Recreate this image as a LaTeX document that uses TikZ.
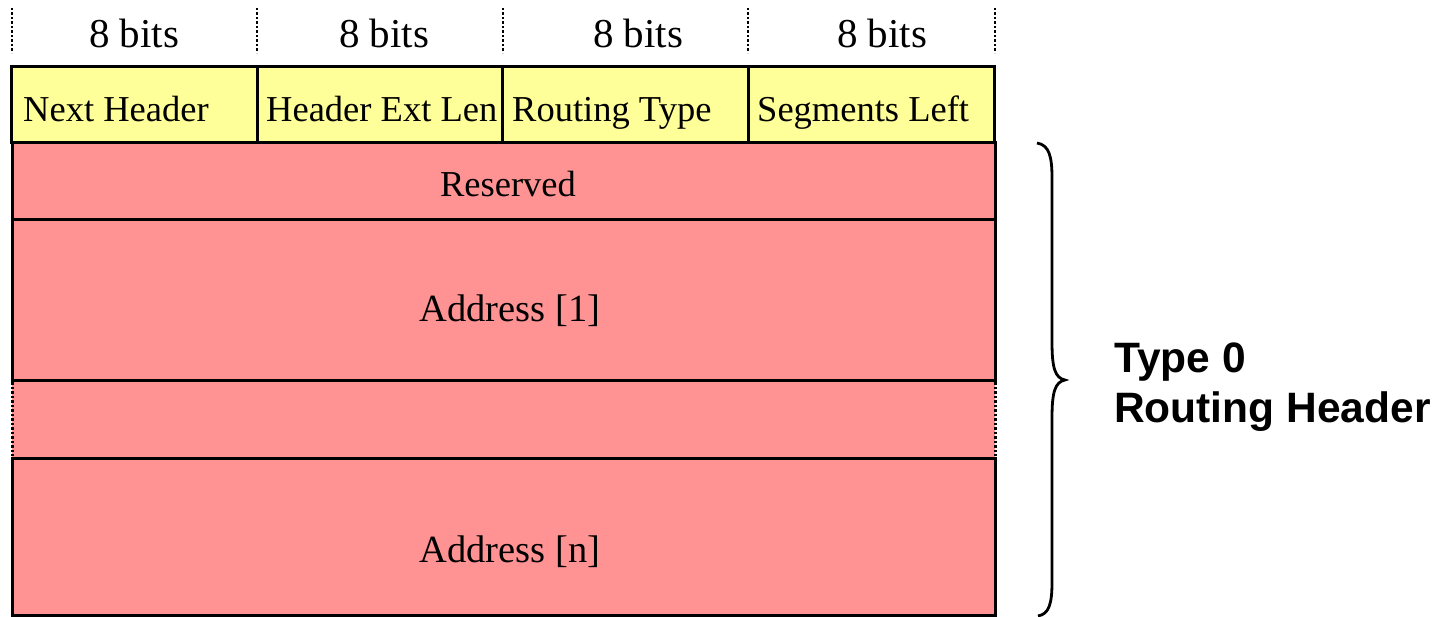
\documentclass[tikz,border=0pt]{standalone}
\usepackage{fontspec}
\setmainfont{Liberation Serif}
\newfontfamily\arialfont{Liberation Sans}
\definecolor{hdrfill}{HTML}{FFFF99}
\definecolor{pinkfill}{HTML}{FF9393}
\begin{document}
\begin{tikzpicture}[x=1pt,y=-1pt,
  cellbox/.style={draw=black,line width=3pt,inner sep=0pt,outer sep=0pt},
  ycell/.style={cellbox,fill=hdrfill,minimum width=245.5pt,minimum height=76pt},
  pcell/.style={cellbox,fill=pinkfill,minimum width=983pt},
  bitstext/.style={anchor=base,inner sep=0pt,font=\fontsize{41}{44}\selectfont},
  fieldtext/.style={anchor=base west,inner sep=0pt,font=\fontsize{36.5}{40}\selectfont},
  rowtext/.style={anchor=base,inner sep=0pt},
  tick/.style={draw=black,line width=2.5pt,dotted},
  bracestyle/.style={draw=black,line width=2.8pt}
]
\useasboundingbox (0,0) rectangle (1442,617);

% bit ticks
\coordinate (t0a) at (12,8);   \coordinate (t0b) at (12,53);
\coordinate (t1a) at (257,8);  \coordinate (t1b) at (257,53);
\coordinate (t2a) at (503,8);  \coordinate (t2b) at (503,53);
\coordinate (t3a) at (748,8);  \coordinate (t3b) at (748,53);
\coordinate (t4a) at (995,8);  \coordinate (t4b) at (995,53);
\foreach \i in {0,...,4} {\draw[tick] (t\i a) -- (t\i b);}

\node[bitstext] (b1) at (134,48) {8 bits};
\node[bitstext] (b2) at (384,48) {8 bits};
\node[bitstext] (b3) at (638,48) {8 bits};
\node[bitstext] (b4) at (882,48) {8 bits};

% pink rows
\node[pcell,minimum height=77pt] (res) at (503.5,181.5) {};
\node[pcell,minimum height=160pt] (addr1) at (503.5,300) {};
\fill[pinkfill] (12,380) rectangle (995,458);
\coordinate (dl1) at (12,382); \coordinate (dl2) at (12,456);
\coordinate (dr1) at (995,382); \coordinate (dr2) at (995,456);
\draw[tick,line width=3pt] (dl1) -- (dl2);
\draw[tick,line width=3pt] (dr1) -- (dr2);
\node[pcell,minimum height=157pt] (addrn) at (503.5,536.5) {};
\draw[line width=3pt] (addr1.south west) -- (addr1.south east);

% header fields
\node[ycell] (nh) at (134.5,105) {};
\node[ycell] (hel) at (380,105) {};
\node[ycell] (rt) at (625.5,105) {};
\node[ycell] (sl) at (871.5,105) {};

\node[fieldtext] (nht) at (23,122) {Next Header};
\node[fieldtext] (helt) at (266,122) {Header Ext Len};
\node[fieldtext] (rtt) at (512,122) {Routing Type};
\node[fieldtext] (slt) at (757,122) {Segments Left};

\node[rowtext,font=\fontsize{36.5}{40}\selectfont] (rest) at (508,197) {Reserved};
\node[rowtext,font=\fontsize{38.5}{44}\selectfont] (a1t) at (510,322) {Address [1]};
\node[rowtext,font=\fontsize{38.5}{44}\selectfont] (ant) at (510,562) {Address [n]};

% brace
\coordinate (brtop) at (1037,143);
\coordinate (brtip) at (1065,380);
\coordinate (brbot) at (1038,616);
\draw[bracestyle] (brtop) .. controls (1049,145) and (1052,156) .. (1052,178)
  -- (1052,342) .. controls (1052,368) and (1055,378) .. (brtip)
  .. controls (1055,382) and (1052,392) .. (1052,418)
  -- (1052,582) .. controls (1052,604) and (1049,614) .. (brbot);

\node[anchor=base west,inner sep=0pt,align=left,font=\arialfont\bfseries\fontsize{42.5}{50}\selectfont] (lbl) at (1114,422) {Type 0\\Routing Header};
\end{tikzpicture}
\end{document}
